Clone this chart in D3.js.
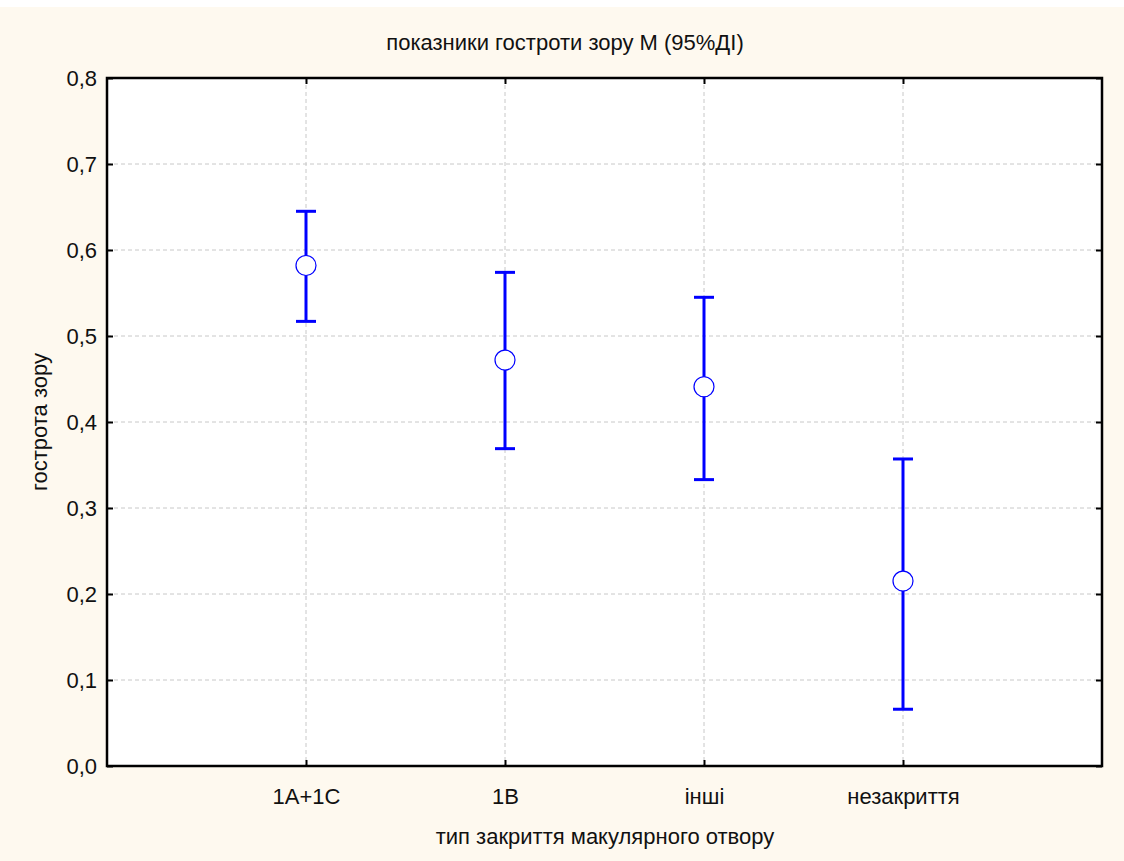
<!DOCTYPE html>
<html><head><meta charset="utf-8">
<script src="https://cdn.jsdelivr.net/npm/d3@7"></script>
<style>
html,body{margin:0;padding:0;background:#fff;}
svg{display:block;}
text{font-family:"Liberation Sans",Arial,sans-serif;fill:#111;}
</style></head>
<body>
<script>
const categories = ["1A+1C", "1B", "інші", "незакриття"];
const means = [0.582, 0.472, 0.441, 0.215];
const upper = [0.645, 0.574, 0.545, 0.357];
const lower = [0.517, 0.369, 0.333, 0.066];
const yTicks = [0.0, 0.1, 0.2, 0.3, 0.4, 0.5, 0.6, 0.7, 0.8];
const titleText = "показники гостроти зору M (95%ДІ)";
const xLabel = "тип закриття макулярного отвору";
const yLabel = "гострота зору";

const W = 1124, H = 861;
const L = 107, R = 1102, T = 78, B = 766;
const FS = 22;

const svg = d3.select("body").append("svg").attr("width", W).attr("height", H);
svg.append("rect").attr("x",0).attr("y",7).attr("width",W).attr("height",H-7).attr("fill","#fef9ef");
svg.append("rect").attr("x",L).attr("y",T).attr("width",R-L).attr("height",B-T).attr("fill","#fff");

const x = d3.scaleLinear().domain([0, categories.length + 1]).range([L, R]);
const y = d3.scaleLinear().domain([0, 0.8]).range([B, T]);
const fmt = d => d3.format(".1f")(d).replace(".", ",");

// grid
const g = svg.append("g");
g.selectAll(".hg").data(yTicks.slice(1, -1)).enter().append("line")
  .attr("x1", L).attr("x2", R).attr("y1", d => y(d)).attr("y2", d => y(d))
  .attr("stroke", "#c8c8c8").attr("stroke-dasharray", "4,3").attr("stroke-width", 1);
g.selectAll(".vg").data(categories).enter().append("line")
  .attr("x1", (d,i) => x(i+1)).attr("x2", (d,i) => x(i+1)).attr("y1", T).attr("y2", B)
  .attr("stroke", "#c8c8c8").attr("stroke-dasharray", "4,3").attr("stroke-width", 1);

// axes
const yAxis = d3.axisLeft(y).tickValues(yTicks).tickFormat(fmt).tickSizeInner(-6).tickSizeOuter(0).tickPadding(10);
const ya = svg.append("g").attr("transform", `translate(${L},0)`).call(yAxis);
ya.select(".domain").remove();
ya.selectAll("line").attr("stroke", "#000").attr("stroke-width", 2);
ya.selectAll("text").attr("font-size", FS).attr("font-family", "Liberation Sans, Arial, sans-serif").attr("fill", "#111").attr("dy", "0.34em");

const yAxisR = d3.axisRight(y).tickValues(yTicks).tickFormat("").tickSizeInner(-6).tickSizeOuter(0);
const yr = svg.append("g").attr("transform", `translate(${R},0)`).call(yAxisR);
yr.select(".domain").remove();
yr.selectAll("line").attr("stroke", "#000").attr("stroke-width", 2);

const xAxis = d3.axisBottom(x).tickValues(d3.range(1, categories.length + 1))
  .tickFormat(i => categories[i-1]).tickSizeInner(-6).tickSizeOuter(0).tickPadding(22);
const xa = svg.append("g").attr("transform", `translate(0,${B})`).call(xAxis);
xa.select(".domain").remove();
xa.selectAll("line").attr("stroke", "#000").attr("stroke-width", 2);
xa.selectAll("text").attr("font-size", FS).attr("font-family", "Liberation Sans, Arial, sans-serif").attr("fill", "#111");

const xAxisT = d3.axisTop(x).tickValues(d3.range(1, categories.length + 1)).tickFormat("").tickSizeInner(-6).tickSizeOuter(0);
const xt = svg.append("g").attr("transform", `translate(0,${T})`).call(xAxisT);
xt.select(".domain").remove();
xt.selectAll("line").attr("stroke", "#000").attr("stroke-width", 2);

// frame
svg.append("rect").attr("x",L).attr("y",T).attr("width",R-L).attr("height",B-T)
  .attr("fill","none").attr("stroke","#000").attr("stroke-width",2.5);

// error bars
const eb = svg.append("g");
categories.forEach((c, i) => {
  const cx = x(i+1);
  eb.append("line").attr("x1", cx).attr("x2", cx).attr("y1", y(upper[i])).attr("y2", y(lower[i]))
    .attr("stroke", "#0000ff").attr("stroke-width", 3);
  [upper[i], lower[i]].forEach(v => {
    eb.append("line").attr("x1", cx-10).attr("x2", cx+10).attr("y1", y(v)).attr("y2", y(v))
      .attr("stroke", "#0000ff").attr("stroke-width", 3);
  });
  eb.append("circle").attr("cx", cx).attr("cy", y(means[i])).attr("r", 10)
    .attr("fill", "#fff").attr("stroke", "#0000ff").attr("stroke-width", 1.2);
});

// titles
svg.append("text").attr("x", 565).attr("y", 50).attr("text-anchor", "middle").attr("font-size", 22).text(titleText);
svg.append("text").attr("x", 605).attr("y", 844).attr("text-anchor", "middle").attr("font-size", 22).text(xLabel);
svg.append("text").attr("transform", "translate(47,422) rotate(-90)").attr("text-anchor", "middle").attr("font-size", 22).text(yLabel);
</script>
</body></html>
